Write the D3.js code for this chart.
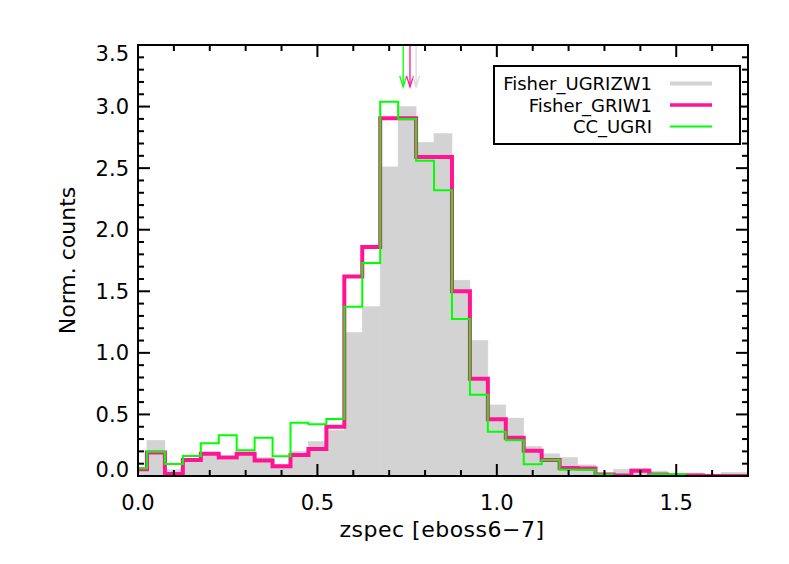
<!DOCTYPE html>
<html><head><meta charset="utf-8">
<script src="https://cdn.jsdelivr.net/npm/d3@7"></script>
<style>body{margin:0;background:#fff}svg{display:block}</style>
</head><body><svg id="c" width="789" height="564"></svg>
<script>
const binCenters = [0.00,0.05,0.10,0.15,0.20,0.25,0.30,0.35,0.40,0.45,0.50,0.55,0.60,0.65,0.70,0.75,0.80,0.85,0.90,0.95,1.00,1.05,1.10,1.15,1.20,1.25,1.30,1.35,1.40,1.45,1.50,1.55,1.60,1.65,1.70];
const fisherUGRIZW1 = [0.05,0.29,0.05,0.14,0.17,0.13,0.17,0.15,0.09,0.20,0.28,0.37,1.165,1.375,2.51,3.00,2.71,2.78,1.59,1.10,0.577,0.47,0.24,0.18,0.15,0.09,0.025,0.055,0.06,0.04,0.02,0.025,0.015,0.03,0.03];
const fisherGRIW1 = [0.054,0.19,0.016,0.13,0.18,0.15,0.18,0.125,0.08,0.17,0.22,0.40,1.62,1.86,2.905,2.905,2.59,2.59,1.50,0.79,0.46,0.31,0.205,0.13,0.065,0.06,0.012,0.005,0.043,0.012,0.005,0.005,0.0,0.0,0.0];
const ccUGRI = [0.063,0.197,0.097,0.162,0.266,0.33,0.21,0.31,0.16,0.433,0.42,0.463,1.375,1.73,3.04,2.90,2.56,2.32,1.275,0.66,0.36,0.29,0.095,0.13,0.05,0.05,0.012,0.0,0.0,0.015,0.015,0.0,0.0,0.0,0.0];
const meanZ = [0.775, 0.758, 0.739];
const seriesNames = ["Fisher_UGRIZW1","Fisher_GRIW1","CC_UGRI"];
const seriesColors = ["#d3d3d3","#ff1493","#00ff00"];
const xTickLabels = ["0.0","0.5","1.0","1.5"];
const yTickLabels = ["0.0","0.5","1.0","1.5","2.0","2.5","3.0","3.5"];
const xTitle = "zspec [eboss6\u22127]";
const yTitle = "Norm. counts";
const binWidth = 0.05;

const L = 138, R = 748, T = 45, B = 476;
const svg = d3.select("#c");
svg.append("rect").attr("width",789).attr("height",564).attr("fill","#fff");
const x = d3.scaleLinear().domain([0,1.7]).range([L,R]);
const y = d3.scaleLinear().domain([0,3.5]).range([B,T]);

svg.append("clipPath").attr("id","clip").append("rect")
  .attr("x",L).attr("y",T).attr("width",R-L).attr("height",B-T);
const plot = svg.append("g").attr("clip-path","url(#clip)");

const bins = binCenters.map((c,i)=>({lo:Math.max(0,c-binWidth/2), hi:Math.min(1.7,c+binWidth/2), i}));

// gray filled histogram
plot.selectAll("rect.g").data(bins).enter().append("rect")
  .attr("x",d=>x(d.lo)).attr("width",d=>x(d.hi)-x(d.lo))
  .attr("y",d=>y(fisherUGRIZW1[d.i])).attr("height",d=>y(0)-y(fisherUGRIZW1[d.i]))
  .attr("fill",seriesColors[0]).attr("stroke",seriesColors[0]).attr("stroke-width",0.6);

function stepPts(vals){
  const pts=[];
  bins.forEach(b=>{pts.push([b.lo,vals[b.i]]);pts.push([b.hi,vals[b.i]]);});
  return pts;
}
const line = d3.line().x(d=>x(d[0])).y(d=>y(d[1]));
plot.append("path").attr("d",line(stepPts(fisherGRIW1))).attr("fill","none")
  .attr("stroke",seriesColors[1]).attr("stroke-width",4).attr("stroke-linejoin","miter");
plot.append("path").attr("d",line(stepPts(ccUGRI))).attr("fill","none")
  .attr("stroke",seriesColors[2]).attr("stroke-width",2);

// arrows
const arrowTip = 3.16;
[2,1,0].forEach(k=>{
  const g = svg.append("g").attr("stroke",k===0?"#d8d8d8":seriesColors[k]).attr("stroke-width",1.3).attr("fill","none");
  const ax = x(meanZ[k]);
  g.append("line").attr("x1",ax).attr("x2",ax).attr("y1",y(3.5)).attr("y2",y(arrowTip));
  g.append("path").attr("d",`M${ax-3.5},${y(arrowTip)-11}L${ax},${y(arrowTip)}L${ax+3.5},${y(arrowTip)-11}`);
});

// axes frame
const axG = svg.append("g").attr("stroke","#000").attr("stroke-width",2);
axG.append("rect").attr("x",L).attr("y",T).attr("width",R-L).attr("height",B-T).attr("fill","none");
// x ticks
const xMinor = d3.range(0,17).map(i=>i/10);
xMinor.forEach(v=>{
  const major = Math.abs(v*2-Math.round(v*2))<1e-6;
  const len = major?12:6;
  axG.append("line").attr("x1",x(v)).attr("x2",x(v)).attr("y1",B).attr("y2",B-len);
  axG.append("line").attr("x1",x(v)).attr("x2",x(v)).attr("y1",T).attr("y2",T+len);
});
const yMinor = d3.range(0,36).map(i=>i/10);
yMinor.forEach(v=>{
  const major = Math.abs(v*2-Math.round(v*2))<1e-6;
  const len = major?12:6;
  axG.append("line").attr("x1",L).attr("x2",L+len).attr("y1",y(v)).attr("y2",y(v));
  axG.append("line").attr("x1",R).attr("x2",R-len).attr("y1",y(v)).attr("y2",y(v));
});
const font = "DejaVu Sans";
xTickLabels.forEach(t=>{
  svg.append("text").attr("x",x(+t)).attr("y",510).attr("text-anchor","middle")
    .attr("font-family",font).attr("font-size",21).text(t);
});
yTickLabels.forEach((t,i)=>{
  let yy = y(+t);
  if(i===0) yy -= 7;
  if(i===yTickLabels.length-1) yy += 8;
  svg.append("text").attr("x",129).attr("y",yy+7.5).attr("text-anchor","end")
    .attr("font-family",font).attr("font-size",21).text(t);
});
svg.append("text").attr("x",(L+R)/2-1).attr("y",537).attr("text-anchor","middle")
  .attr("font-family",font).attr("font-size",22).attr("letter-spacing",0.5).text(xTitle);
svg.append("text").attr("transform",`translate(75,${(T+B)/2}) rotate(-90)`).attr("text-anchor","middle")
  .attr("font-family",font).attr("font-size",22).text(yTitle);

// legend
const lg = svg.append("g");
lg.append("rect").attr("x",494).attr("y",66).attr("width",246).attr("height",78)
  .attr("fill","#fff").attr("stroke","#000").attr("stroke-width",2);
const rowY = [83.5,105,126.5];
const lw = [4,3.5,2];
seriesNames.forEach((n,k)=>{
  lg.append("text").attr("x",652).attr("y",rowY[k]+6.5).attr("text-anchor","end")
    .attr("font-family",font).attr("font-size",18).text(n);
  lg.append("line").attr("x1",670).attr("x2",712).attr("y1",rowY[k]).attr("y2",rowY[k])
    .attr("stroke",seriesColors[k]).attr("stroke-width",lw[k]);
});
</script></body></html>
